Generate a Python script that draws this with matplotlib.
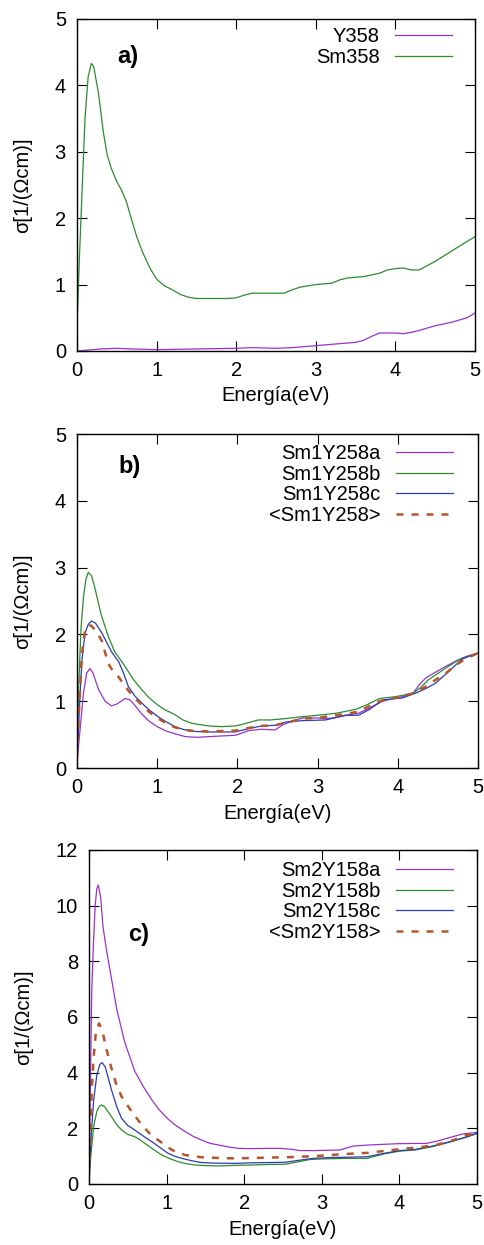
import matplotlib
matplotlib.use('Agg')
import matplotlib.pyplot as plt

plt.rcParams['font.family'] = ['Liberation Sans', 'DejaVu Sans']

# colores de las curvas (estilo gnuplot)
c_purple = '#9932cc'
c_green = '#2e8b2e'
c_blue = '#2b3bb0'
c_dash = '#b5562a'

# ---- panel a) ----
y358_x = [0, 0.1, 0.3, 0.5, 0.7, 1.0, 1.5, 2.0, 2.2, 2.5, 2.7, 2.9, 3.1, 3.3, 3.5,
          3.6, 3.7, 3.8, 3.9, 4.0, 4.1, 4.2, 4.3, 4.5, 4.7, 4.9, 5.0]
y358_y = [0.0, 0.01, 0.03, 0.04, 0.03, 0.02, 0.03, 0.04, 0.05, 0.04, 0.05, 0.07, 0.09,
          0.11, 0.13, 0.16, 0.22, 0.27, 0.27, 0.27, 0.26, 0.28, 0.31, 0.38, 0.43, 0.5, 0.57]

sm358_x = [0.0, 0.03, 0.06, 0.1, 0.14, 0.18, 0.21, 0.27, 0.33, 0.38, 0.43, 0.5, 0.56, 0.62,
           0.68, 0.75, 0.83, 0.92, 1.0, 1.1, 1.2, 1.3, 1.4, 1.5, 1.7, 1.9, 2.0, 2.1, 2.2,
           2.4, 2.6, 2.7, 2.8, 3.0, 3.2, 3.3, 3.4, 3.6, 3.8, 3.9, 4.0, 4.1, 4.2, 4.3, 4.5,
           4.7, 4.9, 5.0]
sm358_y = [0.4, 1.4, 2.3, 3.5, 4.13, 4.33, 4.28, 3.88, 3.3, 2.95, 2.75, 2.55, 2.42, 2.25,
           2.0, 1.72, 1.47, 1.24, 1.08, 0.98, 0.92, 0.85, 0.81, 0.79, 0.79, 0.79, 0.8,
           0.84, 0.87, 0.87, 0.87, 0.92, 0.96, 1.0, 1.02, 1.07, 1.1, 1.12, 1.17, 1.22,
           1.24, 1.25, 1.22, 1.22, 1.35, 1.5, 1.65, 1.72]

# ---- panel b) ----
sm1a_x = [0.0, 0.04, 0.08, 0.12, 0.16, 0.2, 0.27, 0.35, 0.43, 0.5, 0.6, 0.66, 0.72, 0.8,
          0.89, 1.0, 1.1, 1.2, 1.35, 1.5, 1.64, 1.8, 1.97, 2.05, 2.14, 2.3, 2.47, 2.57,
          2.7, 2.82, 3.0, 3.1, 3.2, 3.35, 3.51, 3.65, 3.81, 3.95, 4.06, 4.19, 4.27, 4.35,
          4.45, 4.55, 4.72, 4.85, 5.0]
sm1a_y = [0.1, 0.6, 1.12, 1.42, 1.49, 1.42, 1.17, 1.0, 0.93, 0.96, 1.04, 1.02, 0.94, 0.82,
          0.71, 0.62, 0.56, 0.52, 0.47, 0.46, 0.47, 0.48, 0.49, 0.52, 0.56, 0.58, 0.57,
          0.65, 0.71, 0.75, 0.75, 0.74, 0.75, 0.79, 0.82, 0.9, 1.0, 1.04, 1.07, 1.12, 1.25,
          1.35, 1.42, 1.49, 1.6, 1.67, 1.72]

sm1b_x = [0.0, 0.02, 0.05, 0.08, 0.11, 0.14, 0.18, 0.22, 0.3, 0.39, 0.47, 0.53, 0.6, 0.7,
          0.81, 0.9, 1.01, 1.1, 1.22, 1.32, 1.43, 1.64, 1.8, 1.97, 2.05, 2.14, 2.26, 2.41,
          2.6, 2.82, 3.0, 3.23, 3.48, 3.62, 3.77, 3.98, 4.19, 4.28, 4.38, 4.59, 4.76, 4.9,
          5.0]
sm1b_y = [0.2, 1.2, 2.1, 2.55, 2.82, 2.93, 2.88, 2.71, 2.3, 1.97, 1.74, 1.64, 1.52, 1.33,
          1.17, 1.05, 0.94, 0.87, 0.8, 0.72, 0.67, 0.63, 0.62, 0.63, 0.65, 0.68, 0.72,
          0.72, 0.74, 0.77, 0.79, 0.82, 0.88, 0.95, 1.04, 1.07, 1.12, 1.2, 1.32, 1.49,
          1.62, 1.68, 1.72]

sm1c_x = [0.0, 0.03, 0.06, 0.1, 0.14, 0.18, 0.23, 0.31, 0.37, 0.43, 0.52, 0.58, 0.64, 0.72,
          0.81, 0.9, 1.01, 1.1, 1.22, 1.32, 1.43, 1.64, 1.8, 1.97, 2.14, 2.3, 2.47, 2.61,
          2.82, 3.1, 3.35, 3.51, 3.65, 3.81, 4.06, 4.22, 4.35, 4.47, 4.63, 4.8, 4.9, 5.0]
sm1c_y = [0.1, 0.9, 1.6, 2.02, 2.15, 2.2, 2.17, 2.02, 1.88, 1.74, 1.59, 1.42, 1.22, 1.08,
          0.97, 0.87, 0.77, 0.7, 0.62, 0.58, 0.55, 0.54, 0.54, 0.54, 0.59, 0.63, 0.64,
          0.69, 0.71, 0.72, 0.79, 0.79, 0.88, 1.02, 1.05, 1.12, 1.19, 1.27, 1.44, 1.63,
          1.68, 1.72]

sm1m_x = [0.0, 0.03, 0.06, 0.1, 0.14, 0.18, 0.25, 0.31, 0.39, 0.45, 0.52, 0.64, 0.72, 0.81,
          0.9, 1.0, 1.1, 1.22, 1.35, 1.5, 1.7, 1.97, 2.14, 2.3, 2.47, 2.61, 2.82, 3.0,
          3.23, 3.5, 3.77, 4.0, 4.2, 4.35, 4.47, 4.6, 4.72, 4.85, 5.0]
sm1m_y = [0.15, 1.0, 1.7, 2.05, 2.14, 2.13, 2.03, 1.9, 1.56, 1.45, 1.36, 1.16, 1.05, 0.94,
          0.84, 0.75, 0.68, 0.61, 0.57, 0.55, 0.55, 0.56, 0.6, 0.63, 0.64, 0.68, 0.74,
          0.75, 0.79, 0.84, 1.0, 1.06, 1.12, 1.22, 1.32, 1.42, 1.54, 1.64, 1.72]

# ---- panel c) ----
sm2a_x = [0.0, 0.02, 0.035, 0.057, 0.08, 0.1, 0.12, 0.15, 0.18, 0.22, 0.27, 0.36, 0.46,
          0.59, 0.7, 0.81, 0.9, 1.02, 1.12, 1.24, 1.35, 1.45, 1.56, 1.67, 1.8, 1.93, 2.1,
          2.3, 2.46, 2.6, 2.72, 2.9, 3.05, 3.23, 3.4, 3.6, 3.75, 4.0, 4.35, 4.5, 4.61,
          4.82, 5.0]
sm2a_y = [0.3, 4.0, 6.85, 8.65, 10.0, 10.6, 10.74, 10.3, 9.25, 8.5, 7.69, 6.25, 5.1, 4.05,
          3.5, 3.02, 2.68, 2.33, 2.1, 1.88, 1.7, 1.58, 1.46, 1.40, 1.33, 1.28, 1.27, 1.28,
          1.28, 1.25, 1.2, 1.2, 1.21, 1.22, 1.36, 1.4, 1.42, 1.45, 1.46, 1.55, 1.64, 1.8,
          1.85]

sm2b_x = [0.0, 0.03, 0.06, 0.1, 0.13, 0.16, 0.2, 0.29, 0.36, 0.42, 0.5, 0.59, 0.65, 0.72,
          0.83, 0.94, 1.05, 1.15, 1.25, 1.37, 1.5, 1.67, 1.9, 2.1, 2.3, 2.53, 2.7, 2.85,
          3.0, 3.32, 3.58, 3.8, 4.0, 4.2, 4.44, 4.7, 4.9, 5.0]
sm2b_y = [0.2, 1.2, 2.06, 2.6, 2.78, 2.84, 2.78, 2.42, 2.12, 1.94, 1.78, 1.7, 1.6, 1.46,
          1.24, 1.04, 0.9, 0.8, 0.73, 0.68, 0.66, 0.65, 0.67, 0.68, 0.7, 0.71, 0.8, 0.88,
          0.9, 0.92, 0.92, 1.08, 1.18, 1.22, 1.35, 1.55, 1.72, 1.82]

sm2c_x = [0.0, 0.03, 0.06, 0.1, 0.14, 0.17, 0.21, 0.29, 0.36, 0.42, 0.5, 0.59, 0.7, 0.81,
          0.92, 1.02, 1.12, 1.24, 1.35, 1.45, 1.6, 1.88, 2.1, 2.31, 2.53, 2.7, 2.89, 3.1,
          3.32, 3.58, 3.8, 4.0, 4.2, 4.44, 4.7, 4.9, 5.0]
sm2c_y = [0.2, 1.8, 3.0, 3.9, 4.3, 4.36, 4.2, 3.38, 2.75, 2.36, 2.1, 1.94, 1.72, 1.52, 1.3,
          1.1, 0.98, 0.89, 0.82, 0.77, 0.75, 0.74, 0.76, 0.77, 0.78, 0.85, 0.92, 0.95,
          0.96, 0.98, 1.1, 1.2, 1.24, 1.37, 1.55, 1.72, 1.82]

sm2m_x = [0.0, 0.02, 0.035, 0.057, 0.09, 0.13, 0.18, 0.22, 0.29, 0.35, 0.42, 0.55, 0.68,
          0.78, 0.89, 1.0, 1.07, 1.24, 1.45, 1.7, 1.88, 2.2, 2.53, 2.9, 3.32, 3.6, 3.84,
          4.0, 4.27, 4.5, 4.7, 4.86, 5.0]
sm2m_y = [0.3, 2.0, 3.3, 4.46, 5.5, 5.77, 5.4, 4.9, 4.15, 3.6, 3.14, 2.6, 2.12, 1.82, 1.58,
          1.36, 1.22, 1.04, 0.96, 0.93, 0.92, 0.94, 0.96, 1.0, 1.08, 1.12, 1.2, 1.25, 1.32,
          1.42, 1.58, 1.76, 1.82]

x_ticks = [0, 1, 2, 3, 4, 5]


def estilo(ax, yticks, ylab_x):
    ax.set_xlim(0, 5)
    ax.set_ylim(yticks[0], yticks[-1])
    ax.set_xticks(x_ticks)
    ax.set_yticks(yticks)
    ax.tick_params(direction='in', length=7, width=0.8, top=True, right=True,
                   labelsize=14.5, colors='black')
    ax.tick_params(axis='x', pad=7)
    ax.tick_params(axis='y', pad=8)
    for s in ax.spines.values():
        s.set_linewidth(1.0)
    ax.set_xlabel('Energía(eV)', fontsize=14.5)
    ax.set_ylabel('σ[1/(Ωcm)]', fontsize=14.5)
    ax.xaxis.set_label_coords(0.5, -0.107)
    ax.yaxis.set_label_coords(ylab_x, 0.5)


def leyenda(ax, x_anchor, y_anchor):
    ax.legend(loc='upper right', bbox_to_anchor=(x_anchor, y_anchor), frameon=False,
              markerfirst=False, handlelength=2.85, handletextpad=0.75,
              labelspacing=0.08, borderpad=0, borderaxespad=0, fontsize=14.5)


fig = plt.figure(figsize=(4.85, 12.45), dpi=100)

lw = 0.9
dash = (0, (2.8, 3.2))

# a)
ax1 = fig.add_axes([0.1588, 0.7181, 0.8206, 0.2667])
ax1.plot(y358_x, y358_y, color=c_purple, lw=lw, label='Y358')
ax1.plot(sm358_x, sm358_y, color=c_green, lw=lw, label='Sm358')
estilo(ax1, [0, 1, 2, 3, 4, 5], -0.112)
leyenda(ax1, 0.942, 0.975)
ax1.text(0.64, 4.44, 'a)', fontsize=17, fontweight='bold', ha='center', va='center')

# b)
ax2 = fig.add_axes([0.1588, 0.3831, 0.8268, 0.2683])
ax2.plot(sm1a_x, sm1a_y, color=c_purple, lw=lw, label='Sm1Y258a')
ax2.plot(sm1b_x, sm1b_y, color=c_green, lw=lw, label='Sm1Y258b')
ax2.plot(sm1c_x, sm1c_y, color=c_blue, lw=lw, label='Sm1Y258c')
ax2.plot(sm1m_x, sm1m_y, color=c_dash, lw=1.8, ls=dash, label='<Sm1Y258>')
estilo(ax2, [0, 1, 2, 3, 4, 5], -0.112)
leyenda(ax2, 0.938, 0.97)
ax2.text(0.66, 4.52, 'b)', fontsize=17, fontweight='bold', ha='center', va='center')

# c)
ax3 = fig.add_axes([0.1835, 0.0490, 0.8, 0.2683])
ax3.plot(sm2a_x, sm2a_y, color=c_purple, lw=lw, label='Sm2Y158a')
ax3.plot(sm2b_x, sm2b_y, color=c_green, lw=lw, label='Sm2Y158b')
ax3.plot(sm2c_x, sm2c_y, color=c_blue, lw=lw, label='Sm2Y158c')
ax3.plot(sm2m_x, sm2m_y, color=c_dash, lw=1.8, ls=dash, label='<Sm2Y158>')
estilo(ax3, [0, 2, 4, 6, 8, 10, 12], -0.143)
leyenda(ax3, 0.938, 0.967)
ax3.text(0.64, 8.98, 'c)', fontsize=17, fontweight='bold', ha='center', va='center')

plt.savefig('out.png', dpi=100)
